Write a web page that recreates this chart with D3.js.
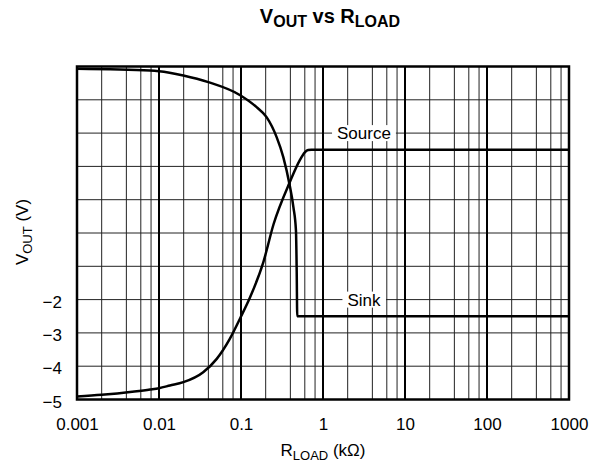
<!DOCTYPE html>
<html>
<head>
<meta charset="utf-8">
<script src="https://cdn.jsdelivr.net/npm/d3@7"></script>
<style>
  html, body { margin: 0; padding: 0; background: #fff; }
  svg { display: block; font-family: "Liberation Sans", Arial, Helvetica, sans-serif; }
</style>
</head>
<body>
<svg id="chart" width="597" height="466"></svg>
<script>
// Load resistance (kΩ) and output voltage (V) for each curve
const sourceR = [0.001, 0.002, 0.005, 0.0078, 0.01, 0.0136, 0.0198, 0.0346, 0.0506, 0.073, 0.099, 0.129, 0.187, 0.25, 0.394, 0.52, 0.6, 0.66, 0.72, 1000];
const sourceV = [-4.91, -4.86, -4.76, -4.70, -4.66, -4.58, -4.48, -4.18, -3.78, -3.18, -2.53, -1.93, -0.88, 0.27, 1.53, 2.18, 2.42, 2.49, 2.5, 2.5];
const sinkR = [0.001, 0.00777, 0.01, 0.0198, 0.04, 0.099, 0.155, 0.205, 0.272, 0.328, 0.389, 0.436, 0.468, 0.478, 0.485, 1000];
const sinkV = [4.93, 4.88, 4.86, 4.73, 4.53, 4.13, 3.78, 3.48, 2.88, 2.28, 1.48, 0.77, 0.07, -1.18, -2.5, -2.5];

// Axis ticks
const xTicks = [0.001, 0.01, 0.1, 1, 10, 100, 1000];
const xTickLabels = ["0.001", "0.01", "0.1", "1", "10", "100", "1000"];
const yGrid = [-5, -4, -3, -2, -1, 0, 1, 2, 3, 4, 5];
const yTickValues = [-5, -4, -3, -2];
const yTickLabels = ["\u22125", "\u22124", "\u22123", "\u22122"];
const minorSteps = [2, 4, 6, 8];

// Curve labels: [text, R (kΩ), V]
const curveLabels = [["Source", 3.16, 3], ["Sink", 3.16, -2]];

(function () {
  const svg = d3.select("#chart");
  const pl = 77, pr = 569, pt = 66.5, pb = 399.5;

  const x = d3.scaleLog().domain([0.001, 1000]).range([pl, pr]);
  const y = d3.scaleLinear().domain([-5, 5]).range([pb, pt]);

  // Minor vertical grid (2,4,6,8 within each decade)
  const minors = [];
  for (let i = 0; i < xTicks.length - 1; i++) {
    minorSteps.forEach(m => minors.push(xTicks[i] * m));
  }
  const grid = svg.append("g");
  grid.selectAll("line.minor").data(minors).join("line").attr("class", "minor")
    .attr("x1", d => x(d)).attr("x2", d => x(d))
    .attr("y1", pt).attr("y2", pb)
    .attr("stroke", "#222").attr("stroke-width", 1);

  // Horizontal grid
  grid.selectAll("line.hgrid").data(yGrid).join("line").attr("class", "hgrid")
    .attr("x1", pl).attr("x2", pr)
    .attr("y1", d => y(d)).attr("y2", d => y(d))
    .attr("stroke", "#222").attr("stroke-width", 1);

  // Decade lines
  grid.selectAll("line.major").data(xTicks).join("line").attr("class", "major")
    .attr("x1", d => x(d)).attr("x2", d => x(d))
    .attr("y1", pt).attr("y2", pb)
    .attr("stroke", "#000").attr("stroke-width", 2);

  // Curve labels with white backing
  const lab = svg.append("g");
  curveLabels.forEach(([t, r, v]) => {
    const g = lab.append("g");
    const txt = g.append("text")
      .attr("x", x(r)).attr("y", y(v)).attr("dy", "0.36em")
      .attr("text-anchor", "middle")
      .attr("font-size", 17).attr("fill", "#000")
      .text(t);
    const bb = txt.node().getBBox();
    g.insert("rect", "text")
      .attr("x", bb.x - 5).attr("y", y(v) - 8)
      .attr("width", bb.width + 10).attr("height", 16)
      .attr("fill", "#fff");
  });

  // Curves
  const line = d3.line()
    .x(d => x(d[0])).y(d => y(d[1]))
    .curve(d3.curveMonotoneX);
  const sourceData = sourceR.map((r, i) => [r, sourceV[i]]);
  const sinkData = sinkR.map((r, i) => [r, sinkV[i]]);
  [sourceData, sinkData].forEach(data => {
    svg.append("path").datum(data)
      .attr("d", line)
      .attr("fill", "none")
      .attr("stroke", "#000")
      .attr("stroke-width", 2.5)
      .attr("stroke-linejoin", "round");
  });

  // Plot frame
  svg.append("rect")
    .attr("x", pl).attr("y", pt)
    .attr("width", pr - pl).attr("height", pb - pt)
    .attr("fill", "none").attr("stroke", "#000").attr("stroke-width", 2.5);

  // X tick labels
  const xAxis = d3.axisBottom(x).tickValues(xTicks)
    .tickFormat((d, i) => xTickLabels[i]).tickSize(0).tickPadding(0);
  const gx = svg.append("g").attr("transform", `translate(0,${pb})`).call(xAxis);
  gx.select(".domain").remove();
  gx.selectAll("text").attr("font-size", 17).attr("font-family", null)
    .attr("fill", "#000").attr("dy", null).attr("y", 30.5);
  gx.attr("font-family", null).attr("font-size", null);

  // Y tick labels
  const yAxis = d3.axisLeft(y).tickValues(yTickValues)
    .tickFormat((d, i) => yTickLabels[i]).tickSize(0).tickPadding(0);
  const gy = svg.append("g").attr("transform", `translate(${pl},0)`).call(yAxis);
  gy.select(".domain").remove();
  gy.selectAll("text").attr("font-size", 17)
    .attr("fill", "#000").attr("x", -15).attr("dy", "0.45em");
  gy.attr("font-family", null).attr("font-size", null);

  // Title
  const title = svg.append("text")
    .attr("x", 330).attr("y", 22.5)
    .attr("text-anchor", "middle")
    .attr("font-size", 20).attr("font-weight", "bold").attr("fill", "#000");
  title.append("tspan").text("V");
  title.append("tspan").attr("font-size", 16).attr("dy", 4).text("OUT");
  title.append("tspan").attr("dy", -4).text(" vs R");
  title.append("tspan").attr("font-size", 16).attr("dy", 4).text("LOAD");

  // X axis title
  const xt = svg.append("text")
    .attr("x", (pl + pr) / 2).attr("y", 456)
    .attr("text-anchor", "middle")
    .attr("font-size", 17).attr("fill", "#000");
  xt.append("tspan").text("R");
  xt.append("tspan").attr("font-size", 13).attr("dy", 4).text("LOAD");
  xt.append("tspan").attr("dy", -4).text(" (k\u03A9)");

  // Y axis title
  const yt = svg.append("text")
    .attr("transform", `translate(28,232) rotate(-90)`)
    .attr("text-anchor", "middle")
    .attr("font-size", 17).attr("fill", "#000");
  yt.append("tspan").text("V");
  yt.append("tspan").attr("font-size", 13).attr("dy", 4).text("OUT");
  yt.append("tspan").attr("dy", -4).text(" (V)");
})();
</script>
</body>
</html>
